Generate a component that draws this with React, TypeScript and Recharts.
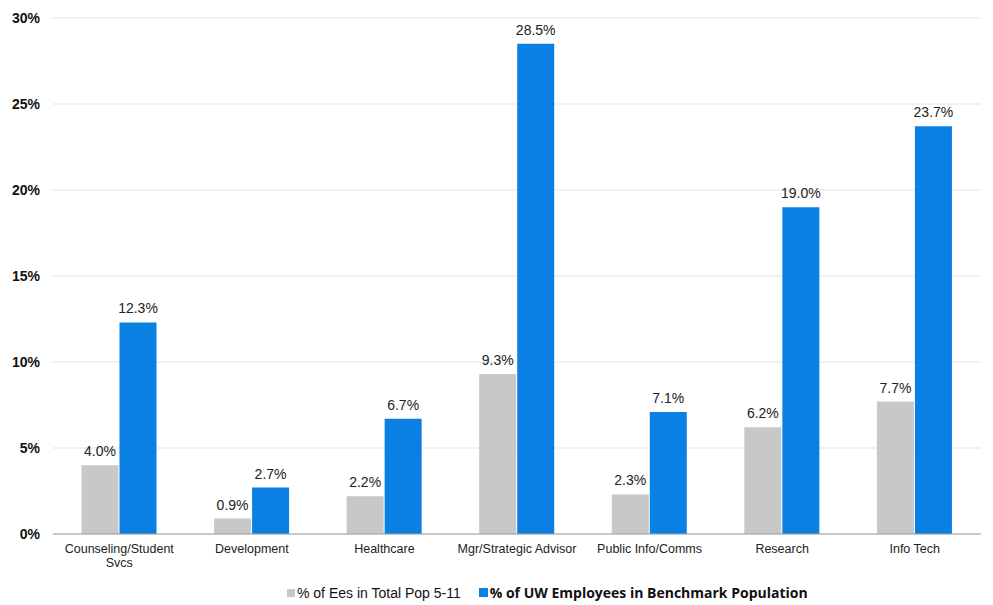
import React from "react";
import {
  BarChart,
  Bar,
  XAxis,
  YAxis,
  CartesianGrid,
  LabelList,
} from "recharts";

const categories = [
  "Counseling/Student Svcs",
  "Development",
  "Healthcare",
  "Mgr/Strategic Advisor",
  "Public Info/Comms",
  "Research",
  "Info Tech",
];
const totalPop = [4.0, 0.9, 2.2, 9.3, 2.3, 6.2, 7.7];
const benchmark = [12.3, 2.7, 6.7, 28.5, 7.1, 19.0, 23.7];
const yTicks = [0, 5, 10, 15, 20, 25, 30];
const edgeTicks = [0, 1, 2, 3, 4, 5, 6, 7];

const seriesNames = {
  totalPop: "% of Ees in Total Pop 5-11",
  benchmark: "% of UW Employees in Benchmark Population",
};

const GRAY = "#c6c8c9";
const BLUE = "#0a80e2";
const FONT = "'Liberation Sans', Arial, sans-serif";

const data = categories.map((name, i) => ({
  name,
  totalPop: totalPop[i],
  benchmark: benchmark[i],
}));

const pct = (v: number) => `${v.toFixed(1)}%`;

// long category names break at their last space
const splitLabel = (s: string) => {
  if (s.length <= 22) return [s];
  const cut = s.lastIndexOf(" ");
  return [s.slice(0, cut), s.slice(cut + 1)];
};

// eslint-disable-next-line @typescript-eslint/no-explicit-any
const CategoryTick = ({ x, y, payload }: any) => (
  <text
    x={x}
    y={y}
    textAnchor="middle"
    fontSize={12.5}
    fontFamily={FONT}
    fill="#222"
  >
    {splitLabel(payload.value).map((line, i) => (
      <tspan key={i} x={x} dy={i === 0 ? 11 : 14}>
        {line}
      </tspan>
    ))}
  </text>
);

export default function App() {
  return (
    <div
      style={{
        position: "absolute",
        left: 0,
        top: 0,
        width: 993,
        height: 605,
        background: "#fff",
      }}
    >
      <BarChart
        width={993}
        height={605}
        data={data}
        margin={{ top: 18, right: 12, bottom: 0, left: 0 }}
        barCategoryGap="21.5%"
        barGap={1}
      >
        <CartesianGrid vertical={false} stroke="#ececec" strokeWidth={1.5} />
        {/* tick marks between categories */}
        <XAxis
          xAxisId="edges"
          type="number"
          domain={[0, 7]}
          ticks={edgeTicks}
          tick={false}
          axisLine={false}
          tickLine={{ stroke: "#a0a0a0" }}
          tickSize={5}
          height={0}
        />
        <XAxis
          dataKey="name"
          interval={0}
          axisLine={{ stroke: "#a0a0a0" }}
          tickLine={false}
          tick={<CategoryTick />}
          tickMargin={2}
          height={71}
        />
        <YAxis
          domain={[0, 30]}
          ticks={yTicks}
          tickFormatter={(v) => `${v}%`}
          axisLine={false}
          tickLine={false}
          tickMargin={7}
          width={53}
          tick={{ fontSize: 14, fontWeight: 700, fill: "#111", fontFamily: FONT }}
        />
        <Bar dataKey="totalPop" fill={GRAY} isAnimationActive={false}>
          <LabelList
            dataKey="totalPop"
            position="top"
            offset={9}
            formatter={(v: number) => pct(v)}
            style={{ fontSize: 14, fill: "#222", fontFamily: FONT }}
          />
        </Bar>
        <Bar dataKey="benchmark" fill={BLUE} isAnimationActive={false}>
          <LabelList
            dataKey="benchmark"
            position="top"
            offset={9}
            formatter={(v: number) => pct(v)}
            style={{ fontSize: 14, fill: "#222", fontFamily: FONT }}
          />
        </Bar>
      </BarChart>
      <div
        style={{
          position: "absolute",
          top: 583,
          left: 287,
          display: "flex",
          alignItems: "center",
          whiteSpace: "nowrap",
          color: "#111",
        }}
      >
        <span style={{ width: 8, height: 8, background: GRAY, marginRight: 2 }} />
        <span style={{ fontFamily: FONT, fontSize: 14 }}>{seriesNames.totalPop}</span>
        <span
          style={{ width: 9, height: 9, background: BLUE, marginLeft: 18, marginRight: 2 }}
        />
        <span style={{ fontFamily: "'Open Sans', sans-serif", fontWeight: 700, fontSize: 14 }}>
          {seriesNames.benchmark}
        </span>
      </div>
    </div>
  );
}
